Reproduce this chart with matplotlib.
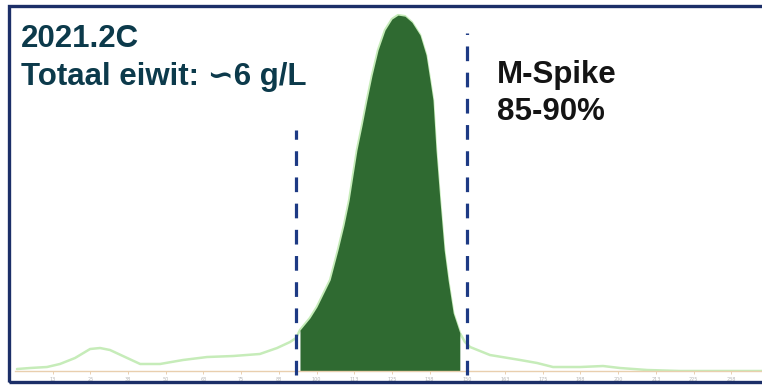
import matplotlib
matplotlib.use("Agg")
import matplotlib.pyplot as plt
from matplotlib.patches import Rectangle

# ---- data ----
mobility = [0.66, 5.0, 10.6, 14.9, 19.9, 24.9, 28.2, 31.5, 36.5, 41.5, 48.1, 55.7,
            63.7, 72.3, 81.2, 86.9, 91.2, 93.2,
            94.5, 97.8, 100.1, 104.5, 107.1, 109.1, 110.8, 112.1, 113.4, 115.1,
            116.7, 118.4, 120.4, 122.7, 125.0, 127.0, 129.3, 131.6, 134.3, 136.3,
            137.6, 138.6, 139.6, 140.9, 142.3, 143.6, 145.3, 147.5,
            149.2, 150.9, 157.5, 167.5, 173.1, 178.4, 187.4, 195.0, 200.6, 209.6,
            220.5, 247.7]
intensity = [0.56, 0.84, 1.12, 1.97, 3.65, 6.18, 6.46, 5.90, 3.93, 1.97, 1.97, 3.09,
             3.93, 4.21, 4.78, 6.46, 8.15, 9.27,
             11.5, 14.9, 18.0, 25.6, 34.0, 41.0, 48.0, 55.1, 62.1, 69.1,
             76.1, 83.1, 90.2, 95.8, 98.9, 100.0, 99.7, 98.0, 94.4, 88.8,
             81.7, 76.1, 62.1, 48.0, 34.0, 25.6, 16.3, 10.7,
             8.15, 6.74, 4.49, 3.09, 2.25, 1.12, 1.12, 1.40, 0.84, 0.28,
             0.0, 0.0]
spike_start = 94.5
spike_end = 147.5
gate_left = 93.2
gate_right = 149.9
gate_left_top = 67.7
gate_right_top = 95.0
tick_values = [12.5 * k for k in range(1, 20)]
tick_labels = ['13', '25', '38', '50', '63', '75', '88', '100', '113', '125', '138',
               '150', '163', '175', '188', '200', '213', '225', '238']

title_lines = ["2021.2C", "Totaal eiwit: \u223d6 g/L"]
spike_lines = ["M-Spike", "85-90%"]

# ---- figure ----
W, H = 762, 387
fig = plt.figure(figsize=(W / 100, H / 100), dpi=100)
fig.patch.set_facecolor("white")

ax = fig.add_axes([15 / W, (H - 371) / H, (W - 15) / W, (371 - 8) / H])
ax.set_xlim(0, 247.7)
ax.set_ylim(0, 102.0)
ax.set_facecolor("none")
for s in ["top", "right", "left"]:
    ax.spines[s].set_visible(False)
ax.spines["bottom"].set_color("#e9cfae")
ax.spines["bottom"].set_linewidth(1.0)
ax.set_yticks([])
ax.set_xticks(tick_values)
ax.set_xticklabels(tick_labels, fontsize=3.5, color="#b8b8b8")
ax.tick_params(axis="x", length=2.5, width=0.6, color="#e4c8a6", pad=1.5)

# filled M-spike region
xs = [x for x in mobility if spike_start <= x <= spike_end]
ys = [y for x, y in zip(mobility, intensity) if spike_start <= x <= spike_end]
ax.fill_between(xs, 0, ys, color="#2f6a31", lw=0, zorder=2)

# light profile line
ax.plot(mobility, intensity, color="#c6ecb9", lw=1.8, zorder=1,
        solid_capstyle="round", solid_joinstyle="round")

# gate dashed lines
for gx, gt in [(gate_left, gate_left_top), (gate_right, gate_right_top)]:
    ax.plot([gx, gx], [-1.2, gt], color="#1d3a84", lw=2.3,
            dashes=(4.6, 3.6), zorder=3, clip_on=False)

# frame
fig.patches.append(Rectangle((9 / W, (H - 382) / H), (W + 10 - 9) / W, (382 - 6) / H,
                             transform=fig.transFigure, fill=False,
                             edgecolor="#1c2f68", lw=2.4, zorder=10))

fam = ["Liberation Sans", "DejaVu Sans"]
fig.text(21 / W, (H - 47) / H, title_lines[0], fontsize=22.5, fontweight="bold",
         color="#0c3a4b", family=fam, va="baseline", ha="left")
fig.text(21 / W, (H - 85) / H, title_lines[1], fontsize=22.5, fontweight="bold",
         color="#0c3a4b", family=fam, va="baseline", ha="left")
fig.text(497 / W, (H - 83) / H, spike_lines[0], fontsize=22.5, fontweight="bold",
         color="#141414", family=fam, va="baseline", ha="left")
fig.text(497 / W, (H - 120) / H, spike_lines[1], fontsize=22.5, fontweight="bold",
         color="#141414", family=fam, va="baseline", ha="left")

fig.savefig("out.png", dpi=100, facecolor="white")
